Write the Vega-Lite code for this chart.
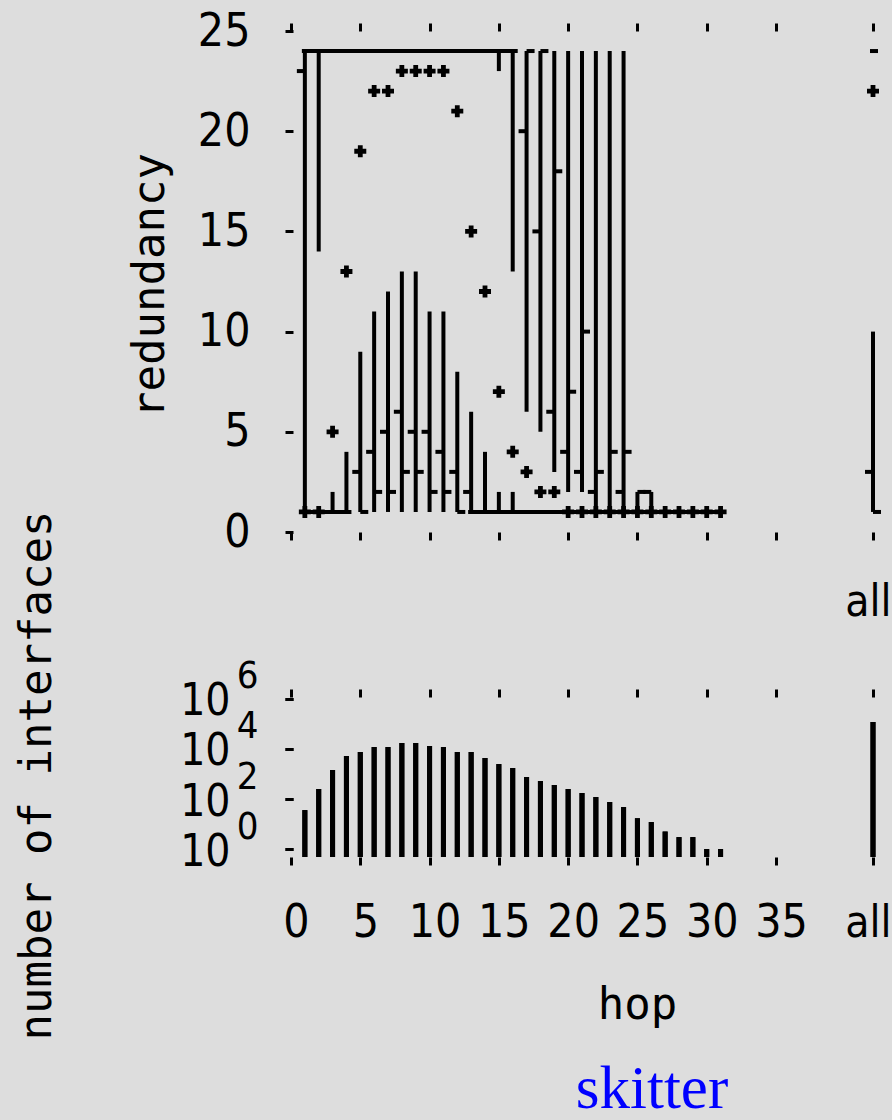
{
  "$schema": "https://vega.github.io/schema/vega-lite/v6.json",
  "width": 892,
  "height": 1120,
  "autosize": {"type": "none"},
  "padding": 0,
  "background": "#dddddd",
  "title": {"text": "skitter", "orient": "bottom", "anchor": "middle", "frame": "group", "offset": -12, "dx": 206, "font": "Liberation Serif", "fontSize": 61, "fontWeight": "normal", "color": "#0000ff", "baseline": "alphabetic"},
  "config": {
    "view": {"stroke": null},
    "axis": {"domain": false, "grid": false, "tickColor": "black", "tickWidth": 3, "tickSize": 8, "labelColor": "black", "labelFont": "Liberation Sans Narrow, DejaVu Sans Condensed, sans-serif", "labelFontSize": 46, "labelOverlap": false, "labelFlush": false, "labelBound": false, "titleFont": "DejaVu Sans Mono", "titleFontSize": 44, "titleFontWeight": "normal", "titleColor": "black", "titlePadding": 0}
  },
  "datasets": {
    "counts": [{"hop":1,"n":36},{"hop":2,"n":251},{"hop":3,"n":1445},{"hop":4,"n":5250},{"hop":5,"n":7600},{"hop":6,"n":12000},{"hop":7,"n":12000},{"hop":8,"n":17400},{"hop":9,"n":17400},{"hop":10,"n":13200},{"hop":11,"n":12000},{"hop":12,"n":7600},{"hop":13,"n":7600},{"hop":14,"n":4370},{"hop":15,"n":2500},{"hop":16,"n":1740},{"hop":17,"n":760},{"hop":18,"n":525},{"hop":19,"n":363},{"hop":20,"n":251},{"hop":21,"n":174},{"hop":22,"n":120},{"hop":23,"n":76},{"hop":24,"n":48},{"hop":25,"n":17},{"hop":26,"n":12},{"hop":27,"n":5},{"hop":28,"n":3},{"hop":29,"n":3},{"hop":30,"n":1},{"hop":31,"n":1},{"hop":"all","n":120000}],
    "ranges": [{"hop":1,"lo":1,"hi":24},{"hop":2,"lo":14,"hi":24},{"hop":3,"lo":1,"hi":2},{"hop":4,"lo":1,"hi":4},{"hop":5,"lo":1,"hi":9},{"hop":6,"lo":1,"hi":11},{"hop":7,"lo":1,"hi":12},{"hop":8,"lo":1,"hi":13},{"hop":9,"lo":1,"hi":13},{"hop":10,"lo":1,"hi":11},{"hop":11,"lo":1,"hi":11},{"hop":12,"lo":1,"hi":8},{"hop":13,"lo":1,"hi":6},{"hop":14,"lo":1,"hi":4},{"hop":15,"lo":1,"hi":2},{"hop":15,"lo":23,"hi":24},{"hop":16,"lo":1,"hi":2},{"hop":16,"lo":13,"hi":24},{"hop":17,"lo":6,"hi":24},{"hop":18,"lo":5,"hi":24},{"hop":19,"lo":3,"hi":24},{"hop":20,"lo":2,"hi":24},{"hop":21,"lo":2,"hi":24},{"hop":22,"lo":1,"hi":24},{"hop":23,"lo":1,"hi":24},{"hop":24,"lo":1,"hi":24},{"hop":25,"lo":1,"hi":2},{"hop":26,"lo":1,"hi":2},{"hop":"all","lo":1,"hi":10}],
    "ticks": [{"hop":1,"side":"open","v":23},{"hop":5,"side":"open","v":3},{"hop":5,"side":"close","v":1},{"hop":6,"side":"open","v":4},{"hop":6,"side":"close","v":2},{"hop":7,"side":"open","v":5},{"hop":7,"side":"close","v":2},{"hop":8,"side":"open","v":6},{"hop":8,"side":"close","v":3},{"hop":9,"side":"open","v":5},{"hop":9,"side":"close","v":3},{"hop":10,"side":"open","v":5},{"hop":10,"side":"close","v":2},{"hop":11,"side":"open","v":4},{"hop":11,"side":"close","v":2},{"hop":12,"side":"open","v":3},{"hop":12,"side":"close","v":1},{"hop":13,"side":"open","v":2},{"hop":17,"side":"open","v":20},{"hop":17,"side":"close","v":24},{"hop":18,"side":"open","v":15},{"hop":18,"side":"close","v":24},{"hop":19,"side":"open","v":6},{"hop":19,"side":"close","v":18},{"hop":20,"side":"open","v":4},{"hop":20,"side":"close","v":7},{"hop":21,"side":"open","v":3},{"hop":21,"side":"close","v":10},{"hop":22,"side":"open","v":2},{"hop":22,"side":"close","v":3},{"hop":23,"side":"close","v":4},{"hop":24,"side":"open","v":2},{"hop":24,"side":"close","v":4},{"hop":25,"side":"close","v":2},{"hop":26,"side":"open","v":2},{"hop":"all","side":"open","v":3},{"hop":"all","side":"close","v":1}],
    "pluses": [{"hop":1,"v":1},{"hop":2,"v":1},{"hop":3,"v":5},{"hop":4,"v":13},{"hop":5,"v":19},{"hop":6,"v":22},{"hop":7,"v":22},{"hop":8,"v":23},{"hop":9,"v":23},{"hop":10,"v":23},{"hop":11,"v":23},{"hop":12,"v":21},{"hop":13,"v":15},{"hop":14,"v":12},{"hop":15,"v":7},{"hop":16,"v":4},{"hop":17,"v":3},{"hop":18,"v":2},{"hop":19,"v":2},{"hop":20,"v":1},{"hop":21,"v":1},{"hop":22,"v":1},{"hop":23,"v":1},{"hop":24,"v":1},{"hop":25,"v":1},{"hop":26,"v":1},{"hop":27,"v":1},{"hop":28,"v":1},{"hop":29,"v":1},{"hop":30,"v":1},{"hop":31,"v":1},{"hop":"all","v":22}],
    "runs": [{"from":1,"to":16,"v":24},{"from":1,"to":4,"v":1},{"from":13,"to":31,"v":1},{"from":"all","to":"all","v":24}]
  },
  "layer": [
    {
      "layer": [
        {
          "data": {"name": "runs"},
          "mark": {"type": "rule", "color": "black", "strokeWidth": 4, "xOffset": -3, "x2Offset": 5},
          "encoding": {
            "x": {"field": "from", "type": "ordinal", "scale": {"type": "point", "domain": [0,1,2,3,4,5,6,7,8,9,10,11,12,13,14,15,16,17,18,19,20,21,22,23,24,25,26,27,28,29,30,31,32,33,34,35,36,37,38,39,40,41,"all"], "range": [291, 873], "padding": 0},
              "axis": {"orient": "bottom", "offset": -588, "values": [0,5,10,15,20,25,30,35,"all"], "labelExpr": "datum.value === 'all' ? 'all' : ''", "labelPadding": 75, "labelBaseline": "alphabetic", "labelAngle": 0, "labelAlign": "right", "labelOffset": 18, "labelFontSize": 44, "title": null}},
            "x2": {"field": "to"},
            "y": {"field": "v", "type": "quantitative", "scale": {"domain": [0, 25], "range": [532, 31], "nice": false, "zero": false},
              "axis": {"orient": "left", "offset": -293, "values": [0,5,10,15,20,25], "labelPadding": 35, "title": "redundancy", "titleX": -130, "titleY": 285, "titleAngle": 270, "titleBaseline": "alphabetic", "titleAlign": "center"}}
          }
        },
        {
          "data": {"name": "ranges"},
          "mark": {"type": "rule", "color": "black", "strokeWidth": 4},
          "encoding": {
            "x": {"field": "hop", "type": "ordinal", "scale": {"type": "point", "domain": [0,1,2,3,4,5,6,7,8,9,10,11,12,13,14,15,16,17,18,19,20,21,22,23,24,25,26,27,28,29,30,31,32,33,34,35,36,37,38,39,40,41,"all"], "range": [291, 873], "padding": 0},
              "axis": {"orient": "top", "offset": -31, "values": [0,5,10,15,20,25,30,35,"all"], "labels": false, "title": null}},
            "y": {"field": "lo", "type": "quantitative", "scale": {"domain": [0, 25], "range": [532, 31], "nice": false, "zero": false}, "axis": null},
            "y2": {"field": "hi"}
          }
        },
        {
          "data": {"name": "ticks"},
          "transform": [{"filter": "datum.side === 'open'"}],
          "mark": {"type": "rule", "color": "black", "strokeWidth": 4, "xOffset": -8, "x2Offset": 0},
          "encoding": {
            "x": {"field": "hop", "type": "ordinal", "scale": {"type": "point", "domain": [0,1,2,3,4,5,6,7,8,9,10,11,12,13,14,15,16,17,18,19,20,21,22,23,24,25,26,27,28,29,30,31,32,33,34,35,36,37,38,39,40,41,"all"], "range": [291, 873], "padding": 0}, "axis": null},
            "x2": {"field": "hop"},
            "y": {"field": "v", "type": "quantitative", "scale": {"domain": [0, 25], "range": [532, 31], "nice": false, "zero": false}, "axis": null}
          }
        },
        {
          "data": {"name": "ticks"},
          "transform": [{"filter": "datum.side === 'close'"}],
          "mark": {"type": "rule", "color": "black", "strokeWidth": 4, "xOffset": 0, "x2Offset": 8},
          "encoding": {
            "x": {"field": "hop", "type": "ordinal", "scale": {"type": "point", "domain": [0,1,2,3,4,5,6,7,8,9,10,11,12,13,14,15,16,17,18,19,20,21,22,23,24,25,26,27,28,29,30,31,32,33,34,35,36,37,38,39,40,41,"all"], "range": [291, 873], "padding": 0}, "axis": null},
            "x2": {"field": "hop"},
            "y": {"field": "v", "type": "quantitative", "scale": {"domain": [0, 25], "range": [532, 31], "nice": false, "zero": false}, "axis": null}
          }
        },
        {
          "data": {"name": "pluses"},
          "mark": {"type": "point", "shape": "cross", "filled": true, "size": 144, "color": "black", "opacity": 1},
          "encoding": {
            "x": {"field": "hop", "type": "ordinal", "scale": {"type": "point", "domain": [0,1,2,3,4,5,6,7,8,9,10,11,12,13,14,15,16,17,18,19,20,21,22,23,24,25,26,27,28,29,30,31,32,33,34,35,36,37,38,39,40,41,"all"], "range": [291, 873], "padding": 0}, "axis": null},
            "y": {"field": "v", "type": "quantitative", "scale": {"domain": [0, 25], "range": [532, 31], "nice": false, "zero": false}, "axis": null}
          }
        }
      ],
      "resolve": {"axis": {"x": "independent", "y": "independent"}}
    },
    {
      "layer": [
        {
          "data": {"name": "counts"},
          "mark": {"type": "rule", "color": "black", "strokeWidth": 5},
          "encoding": {
            "x": {"field": "hop", "type": "ordinal", "scale": {"type": "point", "domain": [0,1,2,3,4,5,6,7,8,9,10,11,12,13,14,15,16,17,18,19,20,21,22,23,24,25,26,27,28,29,30,31,32,33,34,35,36,37,38,39,40,41,"all"], "range": [291, 873], "padding": 0},
              "axis": {"orient": "bottom", "offset": -263, "values": [0,5,10,15,20,25,30,35,"all"], "labelPadding": 71, "labelBaseline": "alphabetic", "labelAngle": 0,
                "labelAlign": {"condition": {"test": "datum.value === 'all'", "value": "right"}, "value": "center"},
                "labelOffset": {"condition": {"test": "datum.value === 'all'", "value": 18}, "value": 5},
                "labelFontSize": {"condition": {"test": "datum.value === 'all'", "value": 44}, "value": 46},
                "title": "hop", "titleX": 637, "titleY": 161, "titleBaseline": "alphabetic", "titleAlign": "center", "titleAngle": 0}},
            "y": {"field": "n", "type": "quantitative", "scale": {"type": "log", "domain": [0.48, 1200000], "range": [857, 697], "nice": false},
              "axis": {"orient": "left", "offset": -293, "values": [1, 100, 10000, 1000000], "labelExpr": "'10'", "labelFontSize": 44, "labelPadding": 55, "labelOffset": 3, "title": "number of interfaces", "titleX": -243, "titleY": 775, "titleAngle": 270, "titleBaseline": "alphabetic", "titleAlign": "center"}},
            "y2": {"datum": 0.48}
          }
        },
        {
          "data": {"name": "counts"},
          "mark": {"type": "rule", "color": "black", "strokeWidth": 5},
          "encoding": {
            "x": {"field": "hop", "type": "ordinal", "scale": {"type": "point", "domain": [0,1,2,3,4,5,6,7,8,9,10,11,12,13,14,15,16,17,18,19,20,21,22,23,24,25,26,27,28,29,30,31,32,33,34,35,36,37,38,39,40,41,"all"], "range": [291, 873], "padding": 0},
              "axis": {"orient": "top", "offset": -697, "values": [0,5,10,15,20,25,30,35,"all"], "labels": false, "title": null}},
            "y": {"field": "n", "type": "quantitative", "scale": {"type": "log", "domain": [0.48, 1200000], "range": [857, 697], "nice": false},
              "axis": {"orient": "left", "offset": -293, "values": [1, 100, 10000, 1000000], "labelExpr": "format(round(log(datum.value) / LN10), 'd')", "labelFontSize": 38, "labelPadding": 27, "labelOffset": -22, "title": null}},
            "y2": {"datum": 0.48}
          }
        }
      ],
      "resolve": {"axis": {"x": "independent", "y": "independent"}}
    }
  ],
  "resolve": {"scale": {"x": "independent", "y": "independent"}}
}
